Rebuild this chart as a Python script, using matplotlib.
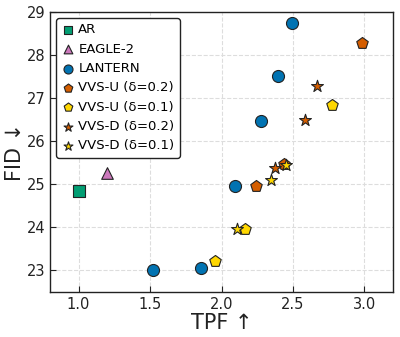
import matplotlib
matplotlib.use("Agg")
import matplotlib.pyplot as plt

ar_tpf = [1.0]
ar_fid = [24.85]
eagle_tpf = [1.2]
eagle_fid = [25.27]
lantern_tpf = [1.52, 1.855, 2.095, 2.275, 2.395, 2.495]
lantern_fid = [23.01, 23.06, 24.96, 26.46, 27.52, 28.75]
vvsu2_tpf = [2.24, 2.435, 2.985]
vvsu2_fid = [24.95, 25.46, 28.29]
vvsu1_tpf = [1.956, 2.165, 2.776]
vvsu1_fid = [23.21, 23.97, 26.84]
vvsd2_tpf = [2.375, 2.585, 2.67]
vvsd2_fid = [25.37, 26.5, 27.29]
vvsd1_tpf = [2.105, 2.345, 2.45]
vvsd1_fid = [23.95, 25.11, 25.44]

green = "#029E73"
pink = "#CC78BC"
blue = "#0173B2"
orange = "#D55E00"
yellow = "#FFD700"

fig = plt.figure(figsize=(4.0, 3.37), dpi=100)
ax = fig.add_axes([0.125, 0.134, 0.8575, 0.83])

kw = dict(edgecolors="#222222", linewidths=0.8, zorder=3)
ax.scatter(ar_tpf, ar_fid, marker="s", s=65, c=green, label="AR", **kw)
ax.scatter(eagle_tpf, eagle_fid, marker="^", s=70, c=pink, label="EAGLE-2", **kw)
ax.scatter(lantern_tpf, lantern_fid, marker="o", s=75, c=blue, label="LANTERN", **kw)
ax.scatter(vvsu2_tpf, vvsu2_fid, marker="p", s=75, c=orange, label="VVS-U (δ=0.2)", **kw)
ax.scatter(vvsu1_tpf, vvsu1_fid, marker="p", s=75, c=yellow, label="VVS-U (δ=0.1)", **kw)
ax.scatter(vvsd2_tpf, vvsd2_fid, marker="*", s=80, c=orange, label="VVS-D (δ=0.2)", **kw)
ax.scatter(vvsd1_tpf, vvsd1_fid, marker="*", s=80, c=yellow, label="VVS-D (δ=0.1)", **kw)

ax.set_xlim(0.8, 3.2)
ax.set_ylim(22.5, 29.0)
ax.set_xticks([1.0, 1.5, 2.0, 2.5, 3.0])
ax.set_yticks([23, 24, 25, 26, 27, 28, 29])
ax.grid(True, linestyle="--", color="#dddddd", linewidth=0.8, zorder=0)
ax.set_axisbelow(True)
ax.tick_params(direction="in", labelsize=10.5, colors="#222222", length=4)
for s in ax.spines.values():
    s.set_color("#222222")
    s.set_linewidth(1.0)
ax.set_xlabel("TPF ↑", fontsize=15, color="#222222", labelpad=1)
ax.set_ylabel("FID ↓", fontsize=15, color="#222222", labelpad=1)

leg = ax.legend(loc="upper left", fontsize=9.5, frameon=True, framealpha=1,
                edgecolor="#222222", handletextpad=0.3, borderpad=0.4,
                labelspacing=0.48, handlelength=1.0, borderaxespad=0.45,
                markerscale=0.75)
leg.get_frame().set_linewidth(1.0)

fig.savefig("out.png", dpi=100)
